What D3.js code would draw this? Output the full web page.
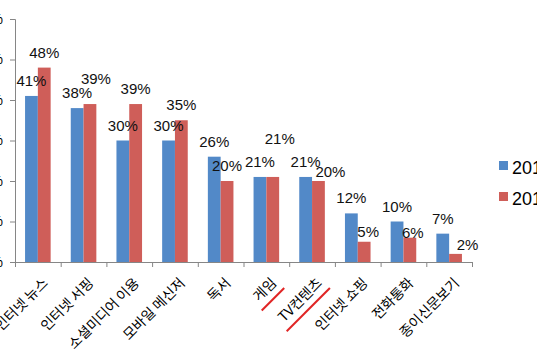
<!DOCTYPE html>
<html>
<head>
<meta charset="utf-8">
<script src="https://cdn.jsdelivr.net/npm/d3@7"></script>
<style>
  body { margin: 0; background: #fff; }
  svg { display: block; font-family: "Liberation Sans", Arial, "Noto Sans CJK KR", sans-serif; }
</style>
</head>
<body>
<div id="graph"></div>
<script>
// data
const categories = ["인터넷 뉴스", "인터넷 서핑", "소셜미디어 이용", "모바일 메신저", "독서", "게임", "TV컨텐츠", "인터넷 쇼핑", "전화통화", "종이신문보기"]
const seriesNames = ["2012", "2013"]
const values2012 = [41, 38, 30, 30, 26, 21, 21, 12, 10, 7]
const values2013 = [48, 39, 39, 35, 20, 21, 20, 5, 6, 2]
const yTicks = [0, 10, 20, 30, 40, 50, 60]
const highlighted = ["게임", "TV컨텐츠"]

const colors = ["#5289c8", "#cf5e59"]

// hand-moved data labels of the second series (dx, dy)
const labelNudge = {1: [6, -10], 5: [7, -23], 6: [12, 6], 7: [4, 5], 8: [3, 10], 9: [12, 6]}

const width = 537
const height = 360
const plot = {left: 15, right: 472, top: 19, bottom: 262}

const svg = d3.select("#graph")
  .append("svg")
  .attr("width", width)
  .attr("height", height)

// scales
const x0 = d3.scaleBand()
  .domain(categories)
  .range([plot.left, plot.right])
  .padding(0)

const bw = x0.bandwidth()
const x1 = d3.scaleBand()
  .domain(seriesNames)
  .range([bw * 0.22, bw * 0.78])

const y = d3.scaleLinear()
  .domain([0, 60])
  .range([plot.bottom, plot.top])

// y axis
const yAxis = svg.append("g")
  .attr("transform", `translate(${plot.left},0)`)
  .call(d3.axisLeft(y).tickValues(yTicks).tickFormat(d => d + "%").tickSize(5).tickPadding(7))
yAxis.selectAll("path, line").attr("stroke", "#868686")
yAxis.selectAll("text").attr("font-size", 14).attr("fill", "#000")
  .style("font-family", '"Liberation Sans", Arial, sans-serif')

// x axis (ticks between categories)
const xi = d3.scaleLinear().domain([0, categories.length]).range([plot.left, plot.right])
const xAxis = svg.append("g")
  .attr("transform", `translate(0,${plot.bottom})`)
  .call(d3.axisBottom(xi).tickValues(d3.range(categories.length + 1)).tickFormat("").tickSize(5))
xAxis.selectAll("path, line").attr("stroke", "#868686")

// bars
const rows = categories.map((c, i) => ({cat: c, i, vals: [values2012[i], values2013[i]]}))

const groups = svg.selectAll(".grp")
  .data(rows)
  .join("g")
  .attr("class", "grp")
  .attr("transform", d => `translate(${x0(d.cat)},0)`)

groups.selectAll("rect")
  .data(d => d.vals.map((v, k) => ({v, k, i: d.i})))
  .join("rect")
  .attr("x", d => x1(seriesNames[d.k]))
  .attr("y", d => y(d.v))
  .attr("width", x1.bandwidth())
  .attr("height", d => plot.bottom - y(d.v))
  .attr("fill", d => colors[d.k])

// data labels
groups.selectAll(".lbl")
  .data(d => d.vals.map((v, k) => ({v, k, i: d.i})))
  .join("text")
  .attr("class", "lbl")
  .attr("text-anchor", "middle")
  .attr("font-size", 15)
  .attr("fill", "#111")
  .attr("x", d => {
    const n = d.k === 1 && labelNudge[d.i] ? labelNudge[d.i][0] : 0
    return x1(seriesNames[d.k]) + x1.bandwidth() / 2 + n
  })
  .attr("y", d => {
    const n = d.k === 1 && labelNudge[d.i] ? labelNudge[d.i][1] : 0
    return y(d.v) - 10 + n
  })
  .text(d => d.v + "%")

// category labels, rotated
const catLabels = svg.selectAll(".cat")
  .data(categories)
  .join("g")
  .attr("class", "cat")
  .attr("transform", d => `translate(${x0(d) + bw / 2 + 3},${plot.bottom + 14}) rotate(-45)`)

catLabels.append("text")
  .attr("text-anchor", "end")
  .attr("dy", "0.8em")
  .attr("font-size", 14)
  .attr("fill", "#000")
  .style("font-family", '"Noto Sans CJK KR", sans-serif')
  .text(d => d)

// red underline on the highlighted ones
catLabels.filter(d => highlighted.includes(d))
  .each(function () {
    const t = d3.select(this).select("text").node()
    const len = t.getComputedTextLength()
    d3.select(this).append("line")
      .attr("x1", -len - 4)
      .attr("x2", 2)
      .attr("y1", 19)
      .attr("y2", 19)
      .attr("stroke", "#e02424")
      .attr("stroke-width", 2)
  })

// legend
const legend = svg.append("g")
  .attr("transform", "translate(499,161)")

seriesNames.forEach((s, k) => {
  legend.append("rect")
    .attr("x", 0)
    .attr("y", k * 31)
    .attr("width", 9)
    .attr("height", 9)
    .attr("fill", colors[k])
  legend.append("text")
    .attr("x", 13)
    .attr("y", k * 31 + 13)
    .attr("font-size", 18)
    .attr("fill", "#000")
    .text(s)
})
</script>
</body>
</html>
